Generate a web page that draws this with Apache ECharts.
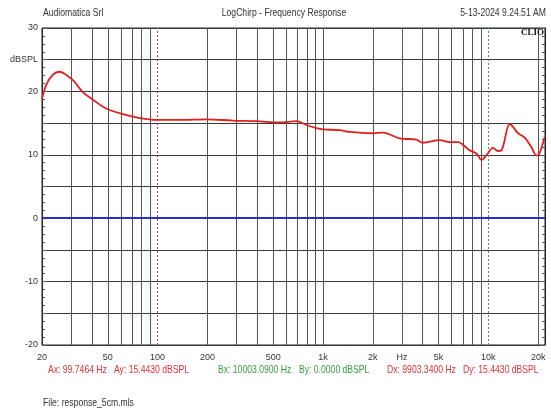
<!DOCTYPE html>
<html>
<head>
<meta charset="utf-8">
<script src="https://cdn.jsdelivr.net/npm/echarts@6/dist/echarts.min.js"></script>
<style>
  html, body { margin: 0; padding: 0; background: #fff; }
  #main { width: 551px; height: 410px; }
</style>
</head>
<body>
<div id="main"></div>
<script>
// frequency response (Hz, dBSPL)
var freqs = [20, 21.2, 23.2, 25.5, 28, 30.7, 35.3, 40.6, 48.9, 61.7, 77.8, 98,
  136, 197, 285, 395, 547, 690, 793, 912, 1000, 1260, 1450, 2000, 2300, 2900,
  3670, 4020, 5080, 5840, 6550, 7370, 7710, 8470, 9080, 9730, 10670, 11440,
  12000, 13470, 14100, 15120, 16590, 18220, 19530, 20170, 21900];
var levels = [18.8, 21.0, 22.6, 23.1, 22.6, 21.8, 19.9, 18.7, 17.3, 16.4, 15.8, 15.5,
  15.5, 15.6, 15.4, 15.3, 15.1, 15.3, 14.7, 14.2, 14.0, 13.9, 13.6, 13.4, 13.5, 12.6,
  12.4, 11.9, 12.3, 12.0, 12.0, 11.1, 10.7, 10.2, 9.2, 9.9, 11.1, 10.6,
  10.7, 14.9, 14.4, 13.4, 12.7, 11.2, 9.9, 10.0, 12.8];

// vertical grid (1-2-...-9 per decade, 100 and 10k sit under the cursors)
var xGridValues = [20, 30, 40, 50, 60, 70, 80, 90,
  200, 300, 400, 500, 600, 700, 800, 900,
  1000, 2000, 3000, 4000, 5000, 6000, 7000, 8000, 9000,
  20000];
var xLabelValues = [20, 50, 100, 200, 500, 1000, 2000, 3000, 5000, 10000, 20000];
var xLabelTexts = ['20', '50', '100', '200', '500', '1k', '2k', 'Hz', '5k', '10k', '20k'];

var cursorA = 99.7464;
var cursorB = 10003.09;
var refLevel = 0;

var FONT = '"Liberation Sans", Arial, sans-serif';
var RED = '#e0303a';
var GREEN = '#3a9a3a';

var chart = echarts.init(document.getElementById('main'), null, { renderer: 'canvas' });

function yLabel(v) {
  if (v === 25) return 'dBSPL';
  return v % 10 === 0 ? String(v) : '';
}

// narrow looking text: normal font squeezed horizontally
function txt(s, x, y, color, align) {
  return {
    type: 'text', x: x, y: y, scaleX: 0.82,
    style: { text: s, fill: color, font: '10.5px ' + FONT, align: align || 'left', verticalAlign: 'middle' }
  };
}

var yCommon = {
  type: 'value',
  min: -20,
  max: 30,
  interval: 5,
  axisLine: { show: true, lineStyle: { color: '#222', width: 1 } },
  axisTick: { show: true, inside: true, length: 5, lineStyle: { color: '#555' } },
  minorTick: { show: true, splitNumber: 4, length: 3, lineStyle: { color: '#555' } }
};

var option = {
  animation: false,
  backgroundColor: '#fff',
  grid: {
    left: 42, right: 6, top: 28, bottom: 65,
    show: true, borderColor: '#222', borderWidth: 1
  },
  xAxis: {
    type: 'log',
    logBase: 10,
    min: 20,
    max: 22000,
    axisLine: { show: true, lineStyle: { color: '#222' } },
    axisTick: { show: false, customValues: xGridValues },
    minorTick: { show: false },
    splitLine: { show: true, lineStyle: { color: '#555', width: 1 } },
    axisLabel: {
      customValues: xLabelValues,
      formatter: function (v) {
        var i = xLabelValues.indexOf(v);
        return i >= 0 ? xLabelTexts[i] : '';
      },
      color: '#333', fontSize: 9, fontFamily: FONT, margin: 8
    }
  },
  yAxis: [
    Object.assign({}, yCommon, {
      position: 'left',
      splitLine: { show: true, lineStyle: { color: '#3a3a3a', width: 1 } },
      axisLabel: { formatter: yLabel, color: '#333', fontSize: 9, fontFamily: FONT, margin: 4 }
    }),
    Object.assign({}, yCommon, {
      position: 'right',
      splitLine: { show: false },
      axisLabel: { show: false }
    })
  ],
  series: [{
    type: 'line',
    data: freqs.map(function (f, i) { return [f, levels[i]]; }),
    smooth: 0.35,
    showSymbol: false,
    lineStyle: { color: '#e41e1e', width: 1.8 },
    z: 5,
    markLine: {
      silent: true,
      symbol: 'none',
      label: { show: false },
      data: [
        { yAxis: refLevel, lineStyle: { color: '#2b2bd6', width: 2, type: 'solid' } },
        { xAxis: cursorA, lineStyle: { color: '#e03030', width: 1, type: [2, 2] } },
        { xAxis: cursorB, lineStyle: { color: '#3aa03a', width: 1, type: [2, 2] } }
      ]
    }
  }],
  graphic: [
    txt('Audiomatica Srl', 43, 13, '#333'),
    txt('LogChirp - Frequency Response', 284, 13, '#333', 'center'),
    txt('5-13-2024 9.24.51 AM', 546, 13, '#333', 'right'),
    { type: 'text', x: 544, y: 33, z: 10,
      style: { text: 'CLIO', fill: '#111', font: 'bold 9px "Liberation Serif", serif', align: 'right', verticalAlign: 'middle' } },
    txt('Ax: 99.7464 Hz', 48, 370, RED),
    txt('Ay: 15.4430 dBSPL', 114, 370, RED),
    txt('Bx: 10003.0900 Hz', 218, 370, GREEN),
    txt('By: 0.0000 dBSPL', 299, 370, GREEN),
    txt('Dx: 9903.3400 Hz', 387, 370, RED),
    txt('Dy: 15.4430 dBSPL', 463, 370, RED),
    txt('File: response_5cm.mls', 43, 403, '#333')
  ]
};

chart.setOption(option);
</script>
</body>
</html>
